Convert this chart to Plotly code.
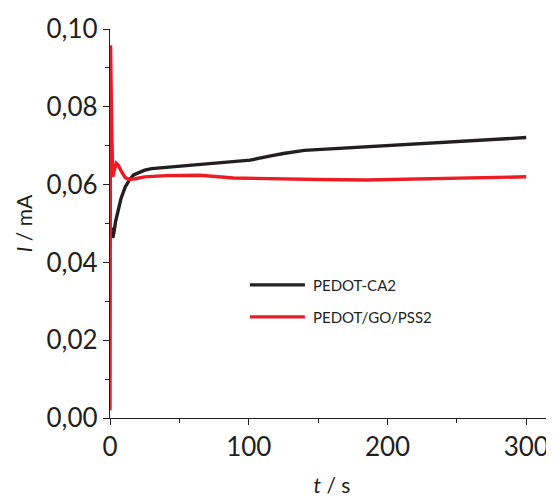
import plotly.graph_objects as go

# PEDOT-CA2
t_ca = [1.2, 2, 3, 4, 6, 8, 11, 14, 17, 21, 25, 30, 40, 50, 65, 75, 90, 101, 115, 125,
        140, 160, 185, 210, 232, 255, 281, 300]
i_ca = [0.0490, 0.0463, 0.0480, 0.0505, 0.0535, 0.0565, 0.0594, 0.0612, 0.0625, 0.0632,
        0.0637, 0.0641, 0.0644, 0.0646, 0.0650, 0.0653, 0.0658, 0.0663, 0.0673, 0.0680,
        0.0688, 0.0692, 0.0696, 0.0701, 0.0706, 0.0710, 0.0716, 0.0721]

# PEDOT/GO/PSS2
t_go = [0, 0.4, 1.2, 2, 3, 4.5, 6, 8, 11, 14, 18, 25, 40, 65, 89, 120, 150, 185, 220, 260, 300]
i_go = [0.002, 0.0958, 0.075, 0.062, 0.0635, 0.0655, 0.0650, 0.0635, 0.0618, 0.0613,
        0.0615, 0.0620, 0.0623, 0.0624, 0.0617, 0.0614, 0.0613, 0.0612, 0.0614, 0.0617, 0.0620]

names = ["PEDOT-CA2", "PEDOT/GO/PSS2"]
colors = ["#231f20", "#ed1c24"]

FONT = "Lato"
INK = "#231f20"
fig = go.Figure()
fig.add_trace(go.Scatter(x=t_ca, y=i_ca, mode="lines", name=names[0],
                         line=dict(color=colors[0], width=3.4)))
fig.add_trace(go.Scatter(x=t_go, y=i_go, mode="lines", name=names[1],
                         line=dict(color=colors[1], width=3.4)))

axis_common = dict(showline=True, linecolor=INK, linewidth=1.3, showgrid=False,
                   zeroline=False, ticks="outside", ticklen=6, tickwidth=1.3,
                   tickcolor=INK, automargin=False,
                   tickfont=dict(family=FONT, size=26, color=INK))

fig.update_xaxes(range=[0, 320], tickvals=[0, 100, 200, 300],
                 minor=dict(tickvals=[50, 150, 250], ticks="outside", ticklen=4,
                            tickwidth=1.3, tickcolor=INK),
                 title=dict(text="<i>t</i> / s", font=dict(family=FONT, size=21, color=INK),
                            standoff=22),
                 **axis_common)
fig.update_yaxes(range=[0, 0.1], tickvals=[0, 0.02, 0.04, 0.06, 0.08, 0.10], tickformat=".2f",
                 minor=dict(tickvals=[0.01, 0.03, 0.05, 0.07, 0.09], ticks="outside", ticklen=4,
                            tickwidth=1.3, tickcolor=INK),
                 title=dict(text="<i>I</i> / mA", font=dict(family=FONT, size=21, color=INK),
                            standoff=8),
                 **axis_common)

# legend drawn as line samples + text labels (paper coords of the plot area)
leg_y = [0.342, 0.260]
for name, col, yy in zip(names, colors, leg_y):
    fig.add_shape(type="line", xref="paper", yref="paper", x0=0.315, x1=0.439, y0=yy, y1=yy,
                  line=dict(color=col, width=3.2))
    fig.add_annotation(xref="paper", yref="paper", x=0.453, y=yy, text=name, showarrow=False,
                       xanchor="left", yanchor="middle",
                       font=dict(family=FONT, size=15, color=INK))

fig.update_layout(
    width=546, height=489,
    margin=dict(l=102, r=0, t=21, b=79),
    separators=",.",
    plot_bgcolor="white", paper_bgcolor="white",
    showlegend=False,
)

fig.write_html("out.html")
